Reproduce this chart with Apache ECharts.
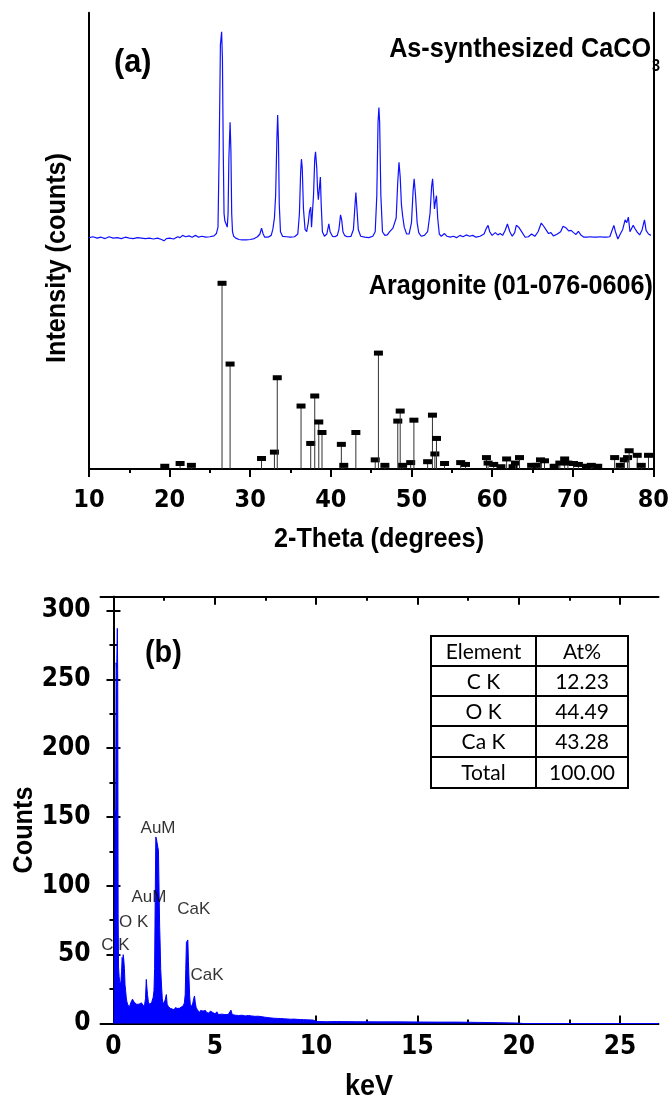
<!DOCTYPE html>
<html>
<head>
<meta charset="utf-8">
<script src="https://cdn.jsdelivr.net/npm/echarts@6/dist/echarts.min.js"></script>
<style>
  html, body { margin: 0; padding: 0; background: #fff; }
  #main { width: 672px; height: 1099px; }
</style>
</head>
<body>
<div id="main"></div>
<script>
// (a) XRD pattern of the as-synthesized CaCO3, two-theta / intensity (plot units)
var xrdTheta = [10.0, 10.5, 11.0, 11.5, 12.0, 12.5, 13.0, 13.5, 14.0, 14.5, 15.0, 15.5, 16.0, 16.5, 17.0, 17.5, 18.0, 18.5, 19.0, 19.3, 19.6, 20.0, 20.5, 21.0, 21.3, 21.6, 22.0, 22.4, 22.8, 23.2, 23.6, 24.0, 24.5, 25.0, 25.5, 25.8, 26.0, 26.15, 26.3, 26.45, 26.55, 26.65, 26.75, 26.85, 26.95, 27.05, 27.15, 27.25, 27.35, 27.5, 27.6, 27.7, 27.8, 27.95, 28.2, 28.6, 29.0, 29.5, 30.0, 30.5, 30.9, 31.2, 31.4, 31.6, 31.8, 32.2, 32.6, 32.8, 33.0, 33.15, 33.3, 33.4, 33.5, 33.6, 33.75, 34.0, 34.5, 35.0, 35.5, 35.9, 36.1, 36.25, 36.35, 36.45, 36.6, 36.8, 37.0, 37.2, 37.35, 37.5, 37.6, 37.7, 37.85, 38.0, 38.1, 38.25, 38.35, 38.45, 38.6, 38.7, 38.8, 38.95, 39.2, 39.5, 39.75, 39.9, 40.2, 40.5, 40.8, 41.0, 41.2, 41.35, 41.5, 41.7, 42.0, 42.5, 42.8, 43.0, 43.1, 43.2, 43.4, 43.7, 44.2, 44.7, 45.2, 45.5, 45.7, 45.85, 45.96, 46.05, 46.2, 46.4, 46.7, 47.0, 47.3, 47.5, 47.7, 47.9, 48.1, 48.3, 48.45, 48.6, 48.75, 48.9, 49.1, 49.4, 49.7, 50.0, 50.2, 50.33, 50.5, 50.7, 50.9, 51.2, 51.6, 52.0, 52.3, 52.5, 52.62, 52.75, 52.85, 52.95, 53.1, 53.25, 53.45, 53.7, 54.1, 54.4, 54.8, 55.2, 55.6, 56.0, 56.4, 56.8, 57.2, 57.6, 58.0, 58.5, 59.0, 59.3, 59.5, 59.7, 60.0, 60.4, 60.7, 61.0, 61.3, 61.6, 61.9, 62.2, 62.5, 62.8, 63.0, 63.3, 63.6, 64.1, 64.5, 64.9, 65.3, 65.7, 66.1, 66.4, 66.7, 67.0, 67.3, 67.6, 68.0, 68.5, 68.8, 69.0, 69.2, 69.5, 69.8, 70.1, 70.4, 70.7, 71.0, 71.4, 71.8, 72.2, 72.6, 73.0, 73.4, 73.8, 74.2, 74.6, 75.1, 75.3, 75.6, 75.9, 76.2, 76.5, 76.7, 76.9, 77.1, 77.3, 77.5, 77.75, 78.0, 78.3, 78.6, 78.9, 79.1, 79.4, 79.7, 80.0];
var xrdCounts = [50.7, 50.9, 50.6, 50.8, 50.5, 50.9, 50.6, 50.7, 50.5, 50.8, 50.6, 50.5, 50.7, 50.6, 50.5, 50.6, 50.4, 50.6, 50.3, 50.0, 50.5, 50.6, 50.4, 50.9, 50.7, 51.2, 50.9, 51.1, 50.8, 51.2, 50.8, 51.0, 50.8, 50.9, 51.1, 51.6, 53, 70, 93, 95.8, 90, 70, 56, 54.4, 54.8, 54, 53, 56, 68, 76, 70, 56, 52, 51, 50.6, 50.3, 50.2, 50.2, 50.3, 50.5, 50.9, 51.5, 52.8, 51.5, 50.8, 50.8, 51.2, 52.5, 55, 60, 72, 77.6, 72, 58, 52, 51, 50.9, 50.8, 50.9, 51.5, 56, 65, 67.9, 66, 57, 52.5, 52, 54, 56.5, 57.4, 53, 52.8, 60, 68, 69.5, 66, 61.2, 59, 62, 64, 58, 52, 51, 51.5, 53.7, 52, 51, 50.9, 51.2, 52.5, 55.7, 54.5, 52, 51.2, 50.9, 51, 52.5, 58, 60.6, 58, 52.5, 51, 50.8, 50.7, 51, 52, 60, 76, 79.2, 76, 60, 52, 51.2, 51.3, 52, 51.8, 52.8, 52.5, 55, 63, 67.2, 64, 58, 55.5, 53, 51.5, 51.5, 54, 61, 63.6, 60, 54, 51.8, 51, 51.2, 52, 56, 62, 63.6, 60, 57, 58.4, 59.9, 55, 51.5, 51, 51.6, 51, 50.8, 51, 50.7, 51.2, 50.9, 51.3, 51, 51.2, 50.8, 51, 51.5, 52.8, 53.4, 52, 51.2, 51.8, 51.3, 51.6, 51.2, 52.2, 53.7, 52, 51, 51.8, 53.4, 53, 52.2, 50.8, 50.9, 51.5, 51, 52, 53.9, 53.2, 52.4, 51.6, 51.8, 51.1, 51.4, 52, 53.2, 53.6, 52.8, 52.2, 52.3, 51.8, 51.4, 52.1, 51.3, 50.8, 50.8, 50.9, 50.8, 50.8, 50.9, 50.8, 50.8, 50.9, 53.4, 52, 50.4, 51.5, 52.5, 54.6, 54, 55.2, 52, 52.3, 53.4, 52.6, 51.9, 51.3, 52.4, 54.6, 52.3, 51.5, 51.2];

// Aragonite reference card 01-076-0606, stick positions and heights
var refTheta = [19.4, 21.3, 22.7, 26.5, 27.5, 31.4, 33.0, 33.35, 36.3, 37.5, 38.0, 38.5, 38.9, 41.3, 41.6, 43.1, 45.5, 45.9, 46.7, 48.3, 48.6, 48.9, 49.9, 50.3, 52.0, 52.6, 52.9, 53.1, 54.1, 56.1, 56.7, 59.3, 59.5, 60.2, 61.1, 61.8, 62.6, 62.9, 63.4, 64.9, 65.6, 66.0, 66.5, 67.7, 68.4, 69.0, 69.4, 70.1, 70.7, 71.7, 72.3, 73.1, 75.2, 75.9, 76.4, 76.8, 77.0, 78.0, 78.5, 79.4];
var refHeight = [0.6, 1.2, 0.8, 40.7, 23, 2.3, 3.7, 20, 13.8, 5.6, 16, 10.3, 8, 5.4, 0.8, 8, 2, 25.4, 0.8, 10.5, 12.7, 0.8, 1.4, 10.7, 1.6, 11.8, 3.3, 6.7, 1.2, 1.4, 1, 2.5, 1.3, 1, 0.5, 2.2, 0.5, 1.3, 2.5, 0.8, 0.8, 2, 1.8, 0.6, 1.3, 2.2, 1.3, 1.2, 1, 0.6, 0.8, 0.6, 2.5, 0.8, 2, 2.5, 4, 3, 0.8, 3];

// (b) EDS spectrum, keV / counts
var edsKev = [0.00, 0.03, 0.06, 0.08, 0.11, 0.13, 0.16, 0.19, 0.21, 0.23, 0.25, 0.28, 0.31, 0.34, 0.37, 0.40, 0.43, 0.46, 0.48, 0.51, 0.54, 0.57, 0.60, 0.63, 0.66, 0.70, 0.74, 0.78, 0.82, 0.86, 0.90, 0.94, 0.98, 1.02, 1.06, 1.10, 1.14, 1.18, 1.22, 1.26, 1.30, 1.34, 1.38, 1.42, 1.46, 1.50, 1.54, 1.58, 1.62, 1.65, 1.68, 1.72, 1.76, 1.80, 1.84, 1.88, 1.92, 1.96, 2.00, 2.03, 2.06, 2.09, 2.12, 2.16, 2.19, 2.22, 2.25, 2.28, 2.30, 2.33, 2.37, 2.41, 2.45, 2.50, 2.55, 2.61, 2.65, 2.70, 2.75, 2.80, 2.85, 2.90, 2.95, 3.00, 3.05, 3.10, 3.15, 3.20, 3.25, 3.30, 3.35, 3.40, 3.45, 3.50, 3.54, 3.57, 3.60, 3.64, 3.67, 3.70, 3.72, 3.76, 3.79, 3.84, 3.88, 3.92, 3.96, 4.00, 4.04, 4.08, 4.14, 4.20, 4.25, 4.30, 4.36, 4.42, 4.48, 4.54, 4.60, 4.66, 4.72, 4.78, 4.84, 4.90, 4.96, 5.02, 5.10, 5.18, 5.26, 5.34, 5.42, 5.50, 5.58, 5.66, 5.74, 5.80, 5.86, 5.94, 6.02, 6.10, 6.18, 6.26, 6.34, 6.42, 6.50, 6.58, 6.66, 6.74, 6.82, 6.90, 6.98, 7.06, 7.14, 7.22, 7.30, 7.38, 7.46, 7.54, 7.62, 7.70, 7.78, 7.86, 7.94, 8.02, 8.10, 8.18, 8.26, 8.34, 8.42, 8.50, 8.58, 8.66, 8.74, 8.82, 8.90, 8.98, 9.06, 9.14, 9.22, 9.30, 9.38, 9.46, 9.54, 9.62, 9.70, 9.78, 9.86, 9.94, 10.0, 10.5, 11, 12, 13, 14, 15, 16, 17, 18, 19, 20, 20.2, 26.9];
var edsCounts = [0, 2, 60, 155, 150, 262, 258, 287, 250, 80, 41, 34, 30, 28, 31, 38, 48, 42, 50, 46, 40, 28, 24, 19, 16, 14, 13, 11.7, 13, 15.3, 16, 17.7, 17, 15.5, 16, 15.3, 14, 15, 13.5, 14, 14.5, 13, 15, 15.3, 14, 12.5, 14, 18, 32, 26, 21, 16, 14, 15, 13.5, 15, 16, 19, 24, 40, 90, 135.5, 134, 133, 128, 125.8, 96.6, 70, 60, 40, 28, 18, 14, 15, 17, 21, 14, 12.5, 13, 11, 12, 10.5, 11, 10, 11.5, 10.5, 11, 10, 11, 10.5, 12, 11.7, 13, 15, 21, 40, 59, 60, 60.7, 45, 36, 20, 14, 12, 13.5, 15, 18, 20, 15, 11.7, 10, 9, 8, 9.5, 8.5, 9, 8, 9.5, 8, 8.5, 7.5, 9, 8, 8, 7.5, 7, 8.5, 6.5, 7.5, 6.8, 7.2, 6.5, 7.8, 6.5, 7, 9.7, 6.5, 6.8, 6, 7, 5.8, 6.6, 6, 6.9, 5.5, 6.2, 5.8, 6.5, 5.5, 6, 5.2, 6, 5.3, 5.6, 5, 5.4, 4.6, 5, 4.3, 4.6, 4, 4.4, 3.8, 4.2, 3.7, 4.1, 3.6, 3.9, 3.4, 3.8, 3.3, 3.6, 3.1, 3.5, 3.2, 3.4, 3, 3.3, 2.9, 3.4, 2.8, 3.1, 2.7, 3.2, 2.6, 2.9, 2.5, 2.8, 1.5, 1.3, 1.4, 1.3, 1.2, 1.2, 1.1, 1, 1, 0.8, 0.6, 0.3, 0, 0];

// peak labels in (b): text, keV, counts
var peakNames = ["C K", "O K", "AuM", "AuM", "CaK", "CaK"];
var peakKev = [0.1, 1.0, 2.2, 1.75, 3.96, 4.62];
var peakCounts = [56.6, 73.3, 141.8, 91.6, 82.8, 34.7];

var tableHead = ["Element", "At%"];
var tableRows = [["C K", "12.23"], ["O K", "44.49"], ["Ca K", "43.28"], ["Total", "100.00"]];

var edsMajor = [0, 5, 10, 15, 20, 25];
var edsMinor = [2.5, 7.5, 12.5, 17.5, 22.5];

// no Arial Narrow here: condensed DejaVu for axis numbers, Liberation Sans squeezed for titles
var COND = "'DejaVu Sans Condensed', 'Liberation Sans', sans-serif";
var SQ = 0.9;

var chart = echarts.init(document.getElementById("main"));

function zip(a, b) {
  var out = [];
  for (var i = 0; i < a.length; i++) out.push([a[i], b[i]]);
  return out;
}

function title(text, x, y, size, align, rot) {
  return {
    type: "text", x: x, y: y, rotation: rot || 0, scaleX: SQ,
    style: { text: text, font: "bold " + size + "px 'Liberation Sans', Arial, sans-serif", fill: "#000",
      align: align || "center", verticalAlign: "middle" }
  };
}

var axisLine = { show: true, lineStyle: { color: "#000", width: 2 } };
var tickStyle = { color: "#000", width: 2 };

// table drawn as graphic
var tbl = { left: 431, right: 628, mid: 536, rows: [636, 666, 696, 726, 757, 788] };
var tableEls = [];
tableEls.push({ type: "rect", shape: { x: tbl.left, y: tbl.rows[0], width: tbl.right - tbl.left, height: tbl.rows[5] - tbl.rows[0] },
  style: { fill: "#fff", stroke: "#000", lineWidth: 2 } });
tableEls.push({ type: "line", shape: { x1: tbl.mid, y1: tbl.rows[0], x2: tbl.mid, y2: tbl.rows[5] }, style: { stroke: "#000", lineWidth: 2 } });
for (var r = 1; r < 5; r++) {
  tableEls.push({ type: "line", shape: { x1: tbl.left, y1: tbl.rows[r], x2: tbl.right, y2: tbl.rows[r] }, style: { stroke: "#000", lineWidth: 2 } });
}
var allRows = [tableHead].concat(tableRows);
allRows.forEach(function (row, i) {
  var cy = (tbl.rows[i] + tbl.rows[i + 1]) / 2 + 1;
  tableEls.push({ type: "text", x: (tbl.left + tbl.mid) / 2, y: cy,
    style: { text: row[0], font: "21px Lato, 'Open Sans', sans-serif", fill: "#000", align: "center", verticalAlign: "middle" } });
  tableEls.push({ type: "text", x: (tbl.mid + tbl.right) / 2, y: cy,
    style: { text: row[1], font: "21px Lato, 'Open Sans', sans-serif", fill: "#000", align: "center", verticalAlign: "middle" } });
});

var option = {
  animation: false,
  backgroundColor: "#fff",
  grid: [
    { left: 89, right: 13.5, top: 12.7, height: 456.3 },
    { left: 100.5, right: 13.5, top: 596.7, height: 426.8 }
  ],
  xAxis: [
    { // (a) bottom
      type: "value", gridIndex: 0, position: "bottom", min: 10, max: 80, interval: 10,
      axisLine: axisLine, splitLine: { show: false },
      axisTick: { show: true, inside: false, length: 5, lineStyle: tickStyle },
      minorTick: { show: true, splitNumber: 2, length: 3, lineStyle: tickStyle },
      axisLabel: { fontFamily: COND, fontWeight: "bold", fontSize: 25, color: "#000", margin: 19 }
    },
    { // (a) top
      type: "value", gridIndex: 0, position: "top", min: 10, max: 80, interval: 10,
      axisLine: axisLine, splitLine: { show: false },
      axisTick: { show: true, inside: true, length: 8, lineStyle: tickStyle },
      minorTick: { show: true, splitNumber: 2, length: 4, lineStyle: tickStyle },
      axisLabel: { show: false }
    },
    { // (b) bottom, major
      type: "value", gridIndex: 1, position: "bottom", min: -0.64, max: 26.9,
      axisLine: axisLine, splitLine: { show: false },
      axisTick: { show: true, inside: true, length: 8, customValues: edsMajor, lineStyle: tickStyle },
      axisLabel: { customValues: edsMajor, fontFamily: COND, fontWeight: "bold", fontSize: 26, color: "#000", margin: 11 }
    },
    { // (b) bottom, minor
      type: "value", gridIndex: 1, position: "bottom", min: -0.64, max: 26.9,
      axisLine: { show: false }, splitLine: { show: false }, axisLabel: { show: false },
      axisTick: { show: true, inside: true, length: 4, customValues: edsMinor, lineStyle: tickStyle }
    },
    { // (b) top, major
      type: "value", gridIndex: 1, position: "top", min: -0.64, max: 26.9,
      axisLine: axisLine, splitLine: { show: false }, axisLabel: { show: false },
      axisTick: { show: true, inside: true, length: 8, customValues: edsMajor, lineStyle: tickStyle }
    },
    { // (b) top, minor
      type: "value", gridIndex: 1, position: "top", min: -0.64, max: 26.9,
      axisLine: { show: false }, splitLine: { show: false }, axisLabel: { show: false },
      axisTick: { show: true, inside: true, length: 4, customValues: edsMinor, lineStyle: tickStyle }
    }
  ],
  yAxis: [
    { // (a) left
      type: "value", gridIndex: 0, position: "left", min: 0, max: 100,
      axisLine: axisLine, axisTick: { show: false }, axisLabel: { show: false }, splitLine: { show: false }
    },
    { // (a) right
      type: "value", gridIndex: 0, position: "right", min: 0, max: 100,
      axisLine: axisLine, axisTick: { show: false }, axisLabel: { show: false }, splitLine: { show: false }
    },
    { // (b) left
      type: "value", gridIndex: 1, position: "left", min: 0, max: 310, interval: 50,
      axisLine: axisLine, splitLine: { show: false },
      axisTick: { show: true, inside: true, length: 7, lineStyle: tickStyle },
      minorTick: { show: true, splitNumber: 2, length: 4, lineStyle: tickStyle },
      axisLabel: { fontFamily: COND, fontWeight: "bold", fontSize: 26, color: "#000", margin: 10 }
    },
    { // (b) right
      type: "value", gridIndex: 1, position: "right", min: 0, max: 310, interval: 50,
      axisLine: axisLine, splitLine: { show: false }, axisLabel: { show: false },
      axisTick: { show: true, inside: true, length: 7, lineStyle: tickStyle },
      minorTick: { show: true, splitNumber: 2, length: 4, lineStyle: tickStyle }
    }
  ],
  series: [
    {
      name: "As-synthesized", type: "line", xAxisIndex: 0, yAxisIndex: 0,
      data: zip(xrdTheta, xrdCounts), showSymbol: false, symbol: "none",
      lineStyle: { color: "#1010ff", width: 1.2 }, z: 3
    },
    {
      name: "Aragonite", type: "custom", xAxisIndex: 0, yAxisIndex: 0,
      data: zip(refTheta, refHeight),
      renderItem: function (params, api) {
        var top = api.coord([api.value(0), api.value(1)]);
        var base = api.coord([api.value(0), 0]);
        return {
          type: "group",
          children: [
            { type: "line", shape: { x1: base[0], y1: base[1], x2: top[0], y2: top[1] }, style: { stroke: "#333", lineWidth: 1 } },
            { type: "rect", shape: { x: top[0] - 4.5, y: top[1] - 2.5, width: 9, height: 5 }, style: { fill: "#000" } }
          ]
        };
      }
    },
    {
      name: "EDS", type: "line", xAxisIndex: 2, yAxisIndex: 2,
      data: zip(edsKev, edsCounts), showSymbol: false, symbol: "none",
      lineStyle: { color: "#0000ff", width: 1 },
      areaStyle: { color: "#0000ff", opacity: 1 }
    },
    {
      name: "peaks", type: "scatter", xAxisIndex: 2, yAxisIndex: 2, symbolSize: 0,
      data: peakKev.map(function (k, i) { return { value: [k, peakCounts[i]], name: peakNames[i] }; }),
      label: { show: true, position: "inside", formatter: "{b}", fontFamily: "'Liberation Sans', Arial, sans-serif",
        fontSize: 17, color: "#000", textBorderWidth: 0 },
      z: 5
    }
  ],
  graphic: [
    title("(a)", 114, 63, 34, "left"),
    title("As-synthesized CaCO", 651, 49, 28, "right"),
    title("3", 652, 67, 16, "left"),
    title("Aragonite (01-076-0606)", 653, 286, 28, "right"),
    title("2-Theta (degrees)", 379, 539, 28),
    title("Intensity (counts)", 57, 258, 28, "center", Math.PI / 2),
    title("(b)", 145, 653, 32, "left"),
    title("keV", 369, 1087, 30),
    title("Counts", 24, 830, 28, "center", Math.PI / 2),
    { type: "group", children: tableEls }
  ]
};

chart.setOption(option);
</script>
</body>
</html>
